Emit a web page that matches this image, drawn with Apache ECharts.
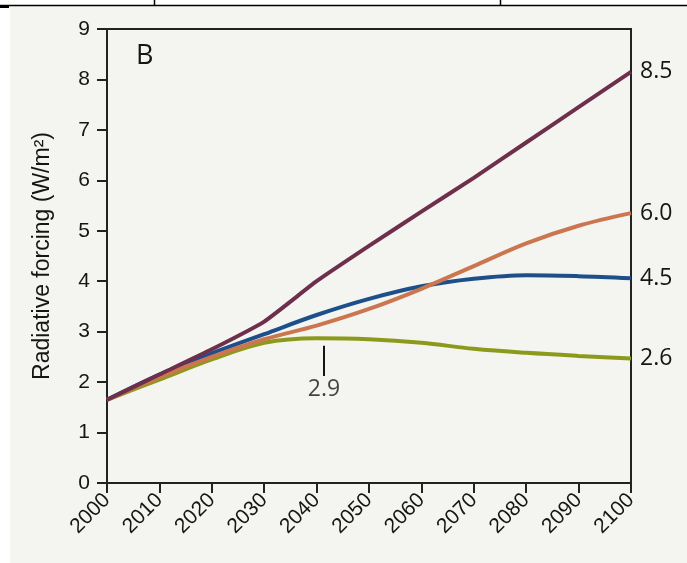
<!DOCTYPE html>
<html>
<head>
<meta charset="utf-8">
<script src="https://cdn.jsdelivr.net/npm/echarts@6/dist/echarts.min.js"></script>
<style>
html,body{margin:0;padding:0;background:#ffffff;}
#c{width:687px;height:563px;}
</style>
</head>
<body>
<div id="c"></div>
<script>
const years = [2000, 2010, 2020, 2030, 2040, 2050, 2060, 2070, 2080, 2090, 2100];
const rcp85 = [1.65, 2.15, 2.65, 3.2, 4.0, 4.7, 5.38, 6.05, 6.75, 7.45, 8.15];
const rcp60 = [1.65, 2.1, 2.5, 2.85, 3.12, 3.45, 3.85, 4.3, 4.75, 5.1, 5.35];
const rcp45 = [1.65, 2.15, 2.57, 2.95, 3.33, 3.65, 3.9, 4.05, 4.12, 4.1, 4.06];
const rcp26 = [1.65, 2.05, 2.45, 2.78, 2.87, 2.85, 2.78, 2.66, 2.58, 2.52, 2.47];
const seriesNames = ['8.5', '6.0', '4.5', '2.6'];
const seriesColors = ['#6e2f4c', '#cc7650', '#1d4f8a', '#8c9a1c'];
const yTicks = [0, 1, 2, 3, 4, 5, 6, 7, 8, 9];
const peakMarker = [2041.4, 2.72, 2.12];   // x, top, bottom of marker
const peakLabel = ['2.9', 2041.4, 1.86];

const SANS = "'Liberation Sans', Arial, sans-serif";
const OPEN = "'Open Sans', 'DejaVu Sans', sans-serif";
const INK = '#151515';

const allData = [rcp85, rcp60, rcp45, rcp26];
const chart = echarts.init(document.getElementById('c'));

const series = allData.map((vals, i) => ({
  name: seriesNames[i],
  type: 'line',
  data: years.map((y, j) => [y, vals[j]]),
  smooth: i === 0 ? 0.15 : 0.35,
  symbol: 'none',
  lineStyle: { color: seriesColors[i], width: 4 },
  itemStyle: { color: seriesColors[i] },
  z: 10 - i,
  endLabel: {
    show: true,
    formatter: seriesNames[i],
    distance: 9,
    color: INK,
    fontSize: 23,
    fontFamily: OPEN
  }
}));

series[3].markLine = {
  silent: true,
  symbol: 'none',
  animation: false,
  lineStyle: { color: INK, width: 2, type: 'solid' },
  label: { show: false },
  data: [[{ coord: [peakMarker[0], peakMarker[1]] }, { coord: [peakMarker[0], peakMarker[2]] }]]
};
series.push({
  type: 'scatter',
  data: [[peakLabel[1], peakLabel[2]]],
  symbolSize: 1,
  itemStyle: { color: 'rgba(0,0,0,0)' },
  label: {
    show: true,
    position: 'inside',
    formatter: peakLabel[0],
    color: INK,
    fontSize: 23,
    fontFamily: OPEN
  },
  silent: true
});

chart.setOption({
  animation: false,
  backgroundColor: '#ffffff',
  textStyle: { fontFamily: SANS },
  graphic: [
    { type: 'rect', shape: { x: 10, y: 6, width: 677, height: 557 }, style: { fill: '#f4f5f0' }, z: -10 },
    { type: 'line', shape: { x1: 0, y1: 5.5, x2: 687, y2: 5.5 }, style: { stroke: '#000', lineWidth: 1.5 } },
    { type: 'line', shape: { x1: 154.5, y1: 0, x2: 154.5, y2: 5 }, style: { stroke: '#000', lineWidth: 1.5 } },
    { type: 'line', shape: { x1: 500.5, y1: 0, x2: 500.5, y2: 5 }, style: { stroke: '#000', lineWidth: 1.5 } },
    { type: 'line', shape: { x1: 0, y1: 7, x2: 9, y2: 7 }, style: { stroke: '#000', lineWidth: 2 } },
    { type: 'text', left: 136, top: 43, style: { text: 'B', fontSize: 27, fontFamily: OPEN, fill: INK } }
  ],
  grid: { left: 107, right: 56, top: 29, bottom: 80, show: true, borderColor: '#222', borderWidth: 2, backgroundColor: 'transparent' },
  xAxis: {
    type: 'value',
    min: years[0],
    max: years[years.length - 1],
    interval: 10,
    splitLine: { show: false },
    axisLine: { show: true, lineStyle: { color: '#222', width: 2 } },
    axisTick: { show: true, length: 10, lineStyle: { color: '#222', width: 2 } },
    axisLabel: { rotate: 45, margin: 14, fontSize: 21, color: INK, fontFamily: SANS, formatter: v => String(v) }
  },
  yAxis: {
    type: 'value',
    min: yTicks[0],
    max: yTicks[yTicks.length - 1],
    interval: 1,
    name: 'Radiative forcing (W/m²)',
    nameLocation: 'middle',
    nameGap: 53,
    nameTextStyle: { fontSize: 23, color: INK, fontFamily: SANS },
    splitLine: { show: false },
    axisLine: { show: true, lineStyle: { color: '#222', width: 2 } },
    axisTick: { show: true, length: 10, lineStyle: { color: '#222', width: 2 } },
    axisLabel: { margin: 17, fontSize: 21, color: INK, fontFamily: SANS }
  },
  series: series
});
</script>
</body>
</html>
